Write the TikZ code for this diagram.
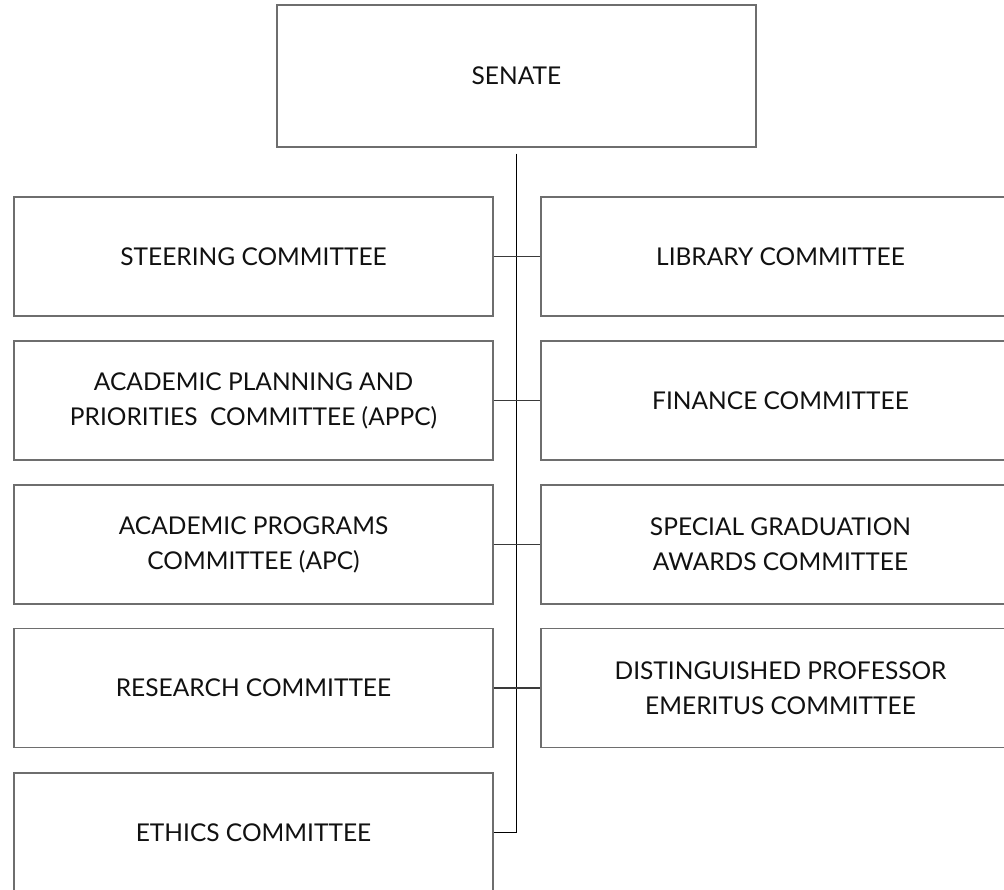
\documentclass[tikz,border=0pt]{standalone}
\usepackage{fontspec}
\setmainfont{Lato}
\definecolor{boxline}{HTML}{6E6E6E}
\definecolor{txt}{HTML}{111111}
\definecolor{link}{HTML}{3A3A3A}
\tikzset{
  unit/.style={draw=boxline, line width=1.3pt, fill=white, minimum width=479pt,
    minimum height=119pt, inner sep=0pt, align=center, text=txt,
    font=\fontsize{24.5}{35}\selectfont},
  trunk/.style={draw=black, line width=1.4pt},
  branch/.style={draw=link, line width=1.2pt}
}
\begin{document}
\begin{tikzpicture}[x=1pt,y=-1pt]
\useasboundingbox (0,0) rectangle (1004,890);
\clip (0,0) rectangle (1004,890);
\node[unit, minimum height=142pt] (senate) at (516.5,76) {SENATE};
\node[unit] (steer) at (253.5,256.5) {STEERING COMMITTEE};
\node[unit] (appc) at (253.5,400.5) {ACADEMIC PLANNING AND\\PRIORITIES\ \ COMMITTEE (APPC)};
\node[unit] (apc) at (253.5,544.5) {ACADEMIC PROGRAMS\\COMMITTEE (APC)};
\node[unit] (research) at (253.5,688) {RESEARCH COMMITTEE};
\node[unit] (ethics) at (253.5,832.5) {ETHICS COMMITTEE};
\node[unit] (library) at (780.5,256.5) {LIBRARY COMMITTEE};
\node[unit] (finance) at (780.5,400.5) {FINANCE COMMITTEE};
\node[unit] (sgac) at (780.5,544.5) {SPECIAL GRADUATION\\AWARDS COMMITTEE};
\node[unit] (dpec) at (780.5,688) {DISTINGUISHED PROFESSOR\\EMERITUS COMMITTEE};
\coordinate (top) at ([yshift=-6pt]senate.south);
\draw[trunk] (top) |- (ethics.east);
\draw[branch] (steer.east) -- (library.west);
\draw[branch] (appc.east) -- (finance.west);
\draw[branch] (apc.east) -- (sgac.west);
\draw[branch] (research.east) -- (dpec.west);
\end{tikzpicture}
\end{document}
